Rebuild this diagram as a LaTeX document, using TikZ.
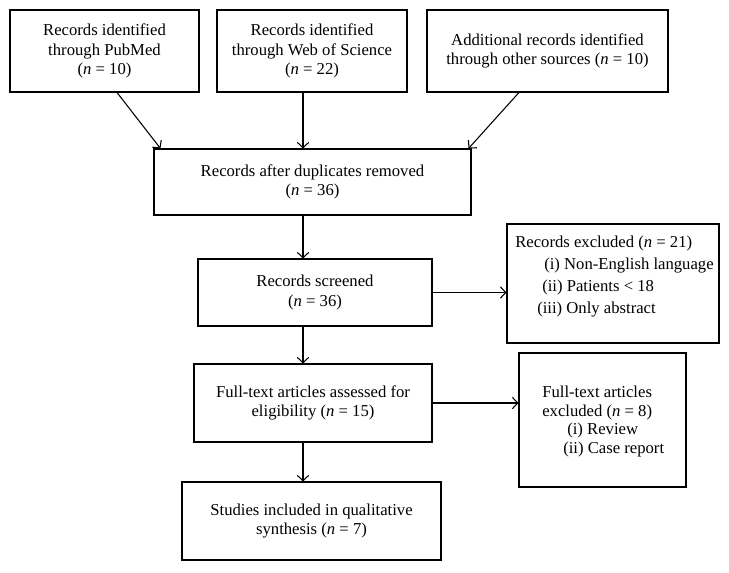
\documentclass[tikz,border=0pt]{standalone}
\usepackage{fontspec}
\setmainfont{Liberation Serif}
\usetikzlibrary{positioning,arrows.meta}

\begin{document}
\begin{tikzpicture}[
  x=0.75pt, y=-0.75pt,
  font=\fontsize{12.5}{14.8}\selectfont,
  box/.style={draw,line width=0.8pt,align=center,inner sep=2pt},
  arr/.style={-{Straight Barb[length=4pt,width=8.5pt]},line width=0.8pt}
]
\useasboundingbox (0,0) rectangle (729,572);

\node[box,minimum width=141.75pt,minimum height=61.5pt] (pubmed) at (104.5,51)
  {Records identified\\through PubMed\\(\textit{n} = 10)};
\node[box,minimum width=142.5pt,minimum height=61.5pt] (wos) at (312,51)
  {Records identified\\through Web of Science\\(\textit{n} = 22)};
\node[box,minimum width=180.75pt,minimum height=61.5pt] (other) at (547.5,51)
  {Additional records identified\\through other sources (\textit{n} = 10)};

\node[box,minimum width=237.75pt,minimum height=49.5pt] (dup) at (312.5,182)
  {Records after duplicates removed\\(\textit{n} = 36)};
\node[box,minimum width=175.5pt,minimum height=50.25pt] (screen) at (315,292.5)
  {Records screened\\(\textit{n} = 36)};
\node[box,minimum width=178.5pt,minimum height=58.5pt] (full) at (313,403)
  {Full-text articles assessed for\\eligibility (\textit{n} = 15)};
\node[box,minimum width=194.25pt,minimum height=58.5pt] (incl) at (311.5,521)
  {Studies included in qualitative\\synthesis (\textit{n} = 7)};

% exclusion boxes
\node[box,minimum width=159pt,minimum height=89.25pt] (excl) at (613,283.5) {};
\node[anchor=north west,inner sep=0pt,align=left,
  font=\fontsize{12.5}{16.5}\selectfont] (excltxt) at (515,236)
  {Records excluded (\textit{n} = 21)\\
   \hspace*{21.75pt}(i) Non-English language\\
   \hspace*{20.25pt}(ii) Patients < 18\\
   \hspace*{16.5pt}(iii) Only abstract};
\node[box,minimum width=125.25pt,minimum height=100.5pt] (fullexcl) at (602.5,420) {};
\node[anchor=north west,inner sep=0pt,align=left,
  font=\fontsize{12.5}{13.8}\selectfont] (fullexcltxt) at (542,386)
  {Full-text articles\\excluded (\textit{n} = 8)\\
   \hspace*{18.75pt}(i) Review\\
   \hspace*{15.75pt}(ii) Case report};

\coordinate (trunk) at (303,0);

\draw[arr] ([xshift=9.4pt]pubmed.south) -- ([xshift=5.25pt]dup.north west);
\draw[arr] (wos.south -| trunk) -- (dup.north -| trunk);
\draw[arr] ([xshift=-21.4pt]other.south) -- ([xshift=-2.25pt]dup.north east);
\draw[arr] (dup.south -| trunk) -- (screen.north -| trunk);
\draw[arr] (screen.east) -- (screen.east -| excl.west);
\draw[arr] (screen.south -| trunk) -- (full.north -| trunk);
\draw[arr] (full.east) -- (full.east -| fullexcl.west);
\draw[arr] (full.south -| trunk) -- (incl.north -| trunk);

\end{tikzpicture}
\end{document}
